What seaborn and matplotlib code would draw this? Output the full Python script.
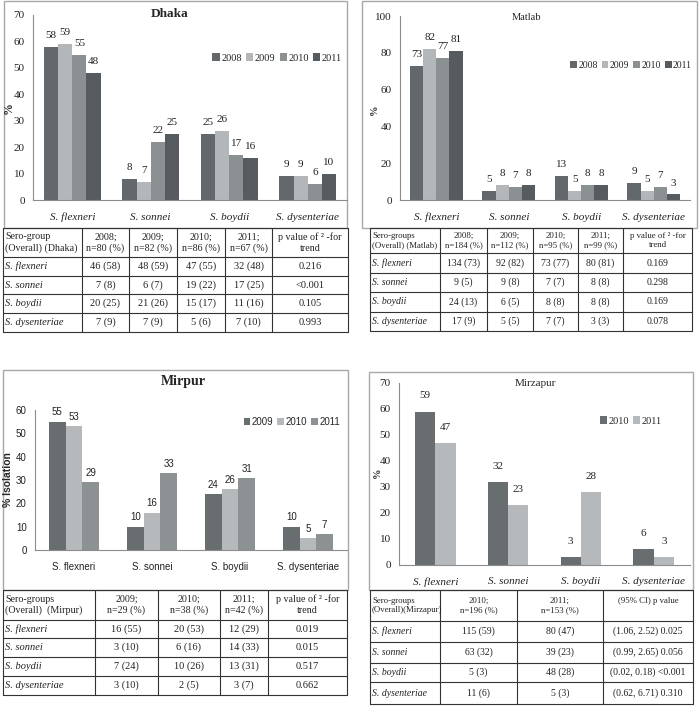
import matplotlib
matplotlib.use("Agg")
import matplotlib.pyplot as plt
from matplotlib.patches import Rectangle
import pandas as pd
import seaborn as sns

# ---- data ----
groups = ['S. flexneri', 'S. sonnei', 'S. boydii', 'S. dysenteriae']

dhaka_years = ['2008', '2009', '2010', '2011']
dhaka_2008 = [58, 8, 25, 9]
dhaka_2009 = [59, 7, 26, 9]
dhaka_2010 = [55, 22, 17, 6]
dhaka_2011 = [48, 25, 16, 10]

matlab_years = ['2008', '2009', '2010', '2011']
matlab_2008 = [73, 5, 13, 9]
matlab_2009 = [82, 8, 5, 5]
matlab_2010 = [77, 7, 8, 7]
matlab_2011 = [81, 8, 8, 3]

mirpur_years = ['2009', '2010', '2011']
mirpur_2009 = [55, 10, 24, 10]
mirpur_2010 = [53, 16, 26, 5]
mirpur_2011 = [29, 33, 31, 7]

mirzapur_years = ['2010', '2011']
mirzapur_2010 = [59, 32, 3, 6]
mirzapur_2011 = [47, 23, 28, 3]

# table contents
dhaka_head = ['Sero-group\n(Overall) (Dhaka)', '2008;\nn=80 (%)', '2009;\nn=82 (%)',
              '2010;\nn=86 (%)', '2011;\nn=67 (%)', 'p value of ² -for\ntrend']
dhaka_c2008 = ['46 (58)', '7 (8)', '20 (25)', '7 (9)']
dhaka_c2009 = ['48 (59)', '6 (7)', '21 (26)', '7 (9)']
dhaka_c2010 = ['47 (55)', '19 (22)', '15 (17)', '5 (6)']
dhaka_c2011 = ['32 (48)', '17 (25)', '11 (16)', '7 (10)']
dhaka_p = ['0.216', '<0.001', '0.105', '0.993']

matlab_head = ['Sero-groups\n(Overall) (Matlab)', '2008;\nn=184 (%)', '2009;\nn=112 (%)',
               '2010;\nn=95 (%)', '2011;\nn=99 (%)', 'p value of ² -for\ntrend']
matlab_c2008 = ['134 (73)', '9 (5)', '24 (13)', '17 (9)']
matlab_c2009 = ['92 (82)', '9 (8)', '6 (5)', '5 (5)']
matlab_c2010 = ['73 (77)', '7 (7)', '8 (8)', '7 (7)']
matlab_c2011 = ['80 (81)', '8 (8)', '8 (8)', '3 (3)']
matlab_p = ['0.169', '0.298', '0.169', '0.078']

mirpur_head = ['Sero-groups\n(Overall)  (Mirpur)', '2009;\nn=29 (%)', '2010;\nn=38 (%)',
               '2011;\nn=42 (%)', 'p value of ² -for\ntrend']
mirpur_c2009 = ['16 (55)', '3 (10)', '7 (24)', '3 (10)']
mirpur_c2010 = ['20 (53)', '6 (16)', '10 (26)', '2 (5)']
mirpur_c2011 = ['12 (29)', '14 (33)', '13 (31)', '3 (7)']
mirpur_p = ['0.019', '0.015', '0.517', '0.662']

mirzapur_head = ['Sero-groups\n(Overall)(Mirzapur)', '2010;\nn=196 (%)', '2011;\nn=153 (%)',
                 '(95% CI) p value\n']
mirzapur_c2010 = ['115 (59)', '63 (32)', '5 (3)', '11 (6)']
mirzapur_c2011 = ['80 (47)', '39 (23)', '48 (28)', '5 (3)']
mirzapur_ci = ['(1.06, 2.52) 0.025', '(0.99, 2.65) 0.056', '(0.02, 0.18) <0.001', '(0.62, 6.71) 0.310']

W, H = 699, 709
fig = plt.figure(figsize=(W / 100, H / 100), dpi=100)
sns.set_style('white')
plt.rcParams['font.family'] = ['Liberation Serif', 'DejaVu Serif']

# background axes in pixel coords for frames, titles, tables
bg = fig.add_axes([0, 0, 1, 1])
bg.set_xlim(0, W)
bg.set_ylim(H, 0)
bg.axis('off')


def long_df(years, series):
    rows = []
    for yr, vals in zip(years, series):
        for g, v in zip(groups, vals):
            rows.append({'group': g, 'year': yr, 'pct': v})
    return pd.DataFrame(rows)


def chart(px, df, palette, ymax, ystep, width, italic, tick_font, legend_px, ylabel, ylabel_px,
          ylabel_kw, pad=4, fs=8, legend_fs=7.5):
    left, right, top, bottom = px
    ax = fig.add_axes([left / W, 1 - bottom / H, (right - left) / W, (bottom - top) / H])
    ax.patch.set_alpha(0)
    sns.barplot(data=df, x='group', y='pct', hue='year', palette=palette, width=width,
                saturation=1, ax=ax, edgecolor='none', legend=True, err_kws={'linewidth': 0})
    for c in ax.containers:
        ax.bar_label(c, padding=pad, fontsize=fs, family=tick_font, color='#222')
    ax.set_xlim(-0.5, 3.5)
    ax.set_ylim(0, ymax)
    ax.set_yticks(range(0, ymax + 1, ystep))
    ax.set_xlabel('')
    ax.set_ylabel('')
    sns.despine(ax=ax)
    for s in ['left', 'bottom']:
        ax.spines[s].set_color('#8c8c8c')
        ax.spines[s].set_linewidth(0.8)
    ax.set_xticks([-0.5, 0.5, 1.5, 2.5, 3.5], minor=True)
    ax.tick_params(axis='x', which='major', length=0, pad=9)
    ax.tick_params(axis='x', which='minor', length=4, color='#8c8c8c', direction='out')
    ax.tick_params(axis='y', length=3, color='#8c8c8c', direction='out', labelsize=fs, pad=3)
    for t in ax.get_xticklabels():
        t.set_fontfamily(tick_font)
        t.set_fontsize(fs)
        t.set_style('italic' if italic else 'normal')
        t.set_color('#222')
    for t in ax.get_yticklabels():
        t.set_fontfamily(tick_font)
        t.set_color('#222')
    lx, ly = legend_px
    ax.legend(loc='center right', bbox_to_anchor=(lx / W, 1 - ly / H), bbox_transform=fig.transFigure,
              ncol=len(df['year'].unique()), frameon=False, handlelength=0.7, handleheight=0.7,
              handletextpad=0.15, columnspacing=0.4, borderaxespad=0, borderpad=0,
              prop={'family': tick_font, 'size': legend_fs})
    bg.text(ylabel_px[0], ylabel_px[1], ylabel, rotation=90, ha='center', va='center', **ylabel_kw)
    return ax


def table(cols, rows, head, columns, size=7.5, hsize=None):
    hsize = hsize or size
    x0, x1 = cols[0], cols[-1]
    for y in rows:
        bg.plot([x0, x1], [y, y], color='#333', lw=0.8)
    for x in cols:
        bg.plot([x, x], [rows[0], rows[-1]], color='#333', lw=0.8)
    # header
    for i, h in enumerate(head):
        yc = (rows[0] + rows[1]) / 2
        if i == 0:
            bg.text(cols[0] + 2, yc, h, ha='left', va='center', fontsize=hsize, linespacing=1.25, color='#222')
        else:
            bg.text((cols[i] + cols[i + 1]) / 2, yc, h, ha='center', va='center', fontsize=hsize,
                    linespacing=1.25, color='#222')
    for r, g in enumerate(groups):
        yc = (rows[r + 1] + rows[r + 2]) / 2
        bg.text(cols[0] + 2, yc, g, ha='left', va='center', fontsize=size, style='italic', color='#222')
        for j, col in enumerate(columns):
            bg.text((cols[j + 1] + cols[j + 2]) / 2, yc, col[r], ha='center', va='center', fontsize=size,
                    color='#222')


grey4 = ['#63686c', '#b4b7b9', '#8b9093', '#565b5f']
grey3 = ['#686d70', '#b6b9bb', '#8c9194']
grey2 = ['#686d70', '#b6b9bb']

# frames
for (x, y, w, h) in [(4, 1, 343, 227), (362, 1, 335, 227), (3, 370, 345, 220), (369, 372, 324, 218)]:
    bg.add_patch(Rectangle((x, y), w, h, fill=False, ec='#a8a8a8', lw=1.0))

serif = 'Liberation Serif'
sans = 'Liberation Sans'

# Dhaka
chart((33, 347, 15, 200), long_df(dhaka_years, [dhaka_2008, dhaka_2009, dhaka_2010, dhaka_2011]),
      grey4, 70, 10, 0.72, True, serif, (342, 58), '%', (9, 108), {'fontsize': 8.5, 'fontweight': 'bold'},
      pad=5)
bg.text(170, 14, 'Dhaka', ha='center', va='center', fontsize=9.5, fontweight='bold')

# Matlab
chart((400, 690, 16, 200), long_df(matlab_years, [matlab_2008, matlab_2009, matlab_2010, matlab_2011]),
      grey4, 100, 20, 0.73, True, serif, (692, 65), '%', (374, 110), {'fontsize': 7.5, 'fontweight': 'bold'},
      pad=5, legend_fs=7)
bg.text(527, 17, 'Matlab', ha='center', va='center', fontsize=7.5)

# Mirpur
chart((35, 347, 410, 550), long_df(mirpur_years, [mirpur_2009, mirpur_2010, mirpur_2011]),
      grey3, 60, 10, 0.64, False, sans, (340, 422), '% Isolation', (8, 480),
      {'fontsize': 7.5, 'fontweight': 'bold', 'family': sans}, pad=3, fs=7, legend_fs=7)
bg.text(183, 382, 'Mirpur', ha='center', va='center', fontsize=10, fontweight='bold')

# Mirzapur
chart((399, 690, 383, 565), long_df(mirzapur_years, [mirzapur_2010, mirzapur_2011]),
      grey2, 70, 10, 0.56, True, serif, (662, 421), '%', (377, 473), {'fontsize': 7.5, 'fontweight': 'bold'},
      pad=8)
bg.text(535, 384, 'Mirzapur', ha='center', va='center', fontsize=8)

# tables
table([3, 82, 129, 177, 225, 272, 348], [228, 257, 276, 294, 313, 332], dhaka_head,
      [dhaka_c2008, dhaka_c2009, dhaka_c2010, dhaka_c2011, dhaka_p], size=7.5, hsize=7.2)
table([370, 440, 487, 533, 578, 623, 692], [228, 253, 273, 292, 312, 331], matlab_head,
      [matlab_c2008, matlab_c2009, matlab_c2010, matlab_c2011, matlab_p], size=7, hsize=6.3)
table([3, 95, 158, 220, 268, 347], [590, 620, 638, 657, 676, 695], mirpur_head,
      [mirpur_c2009, mirpur_c2010, mirpur_c2011, mirpur_p], size=7.5, hsize=7.2)
table([370, 440, 517, 603, 693], [590, 621, 642, 663, 682, 704], mirzapur_head,
      [mirzapur_c2010, mirzapur_c2011, mirzapur_ci], size=7, hsize=6.3)

fig.savefig('out.png', dpi=100, facecolor='white')
